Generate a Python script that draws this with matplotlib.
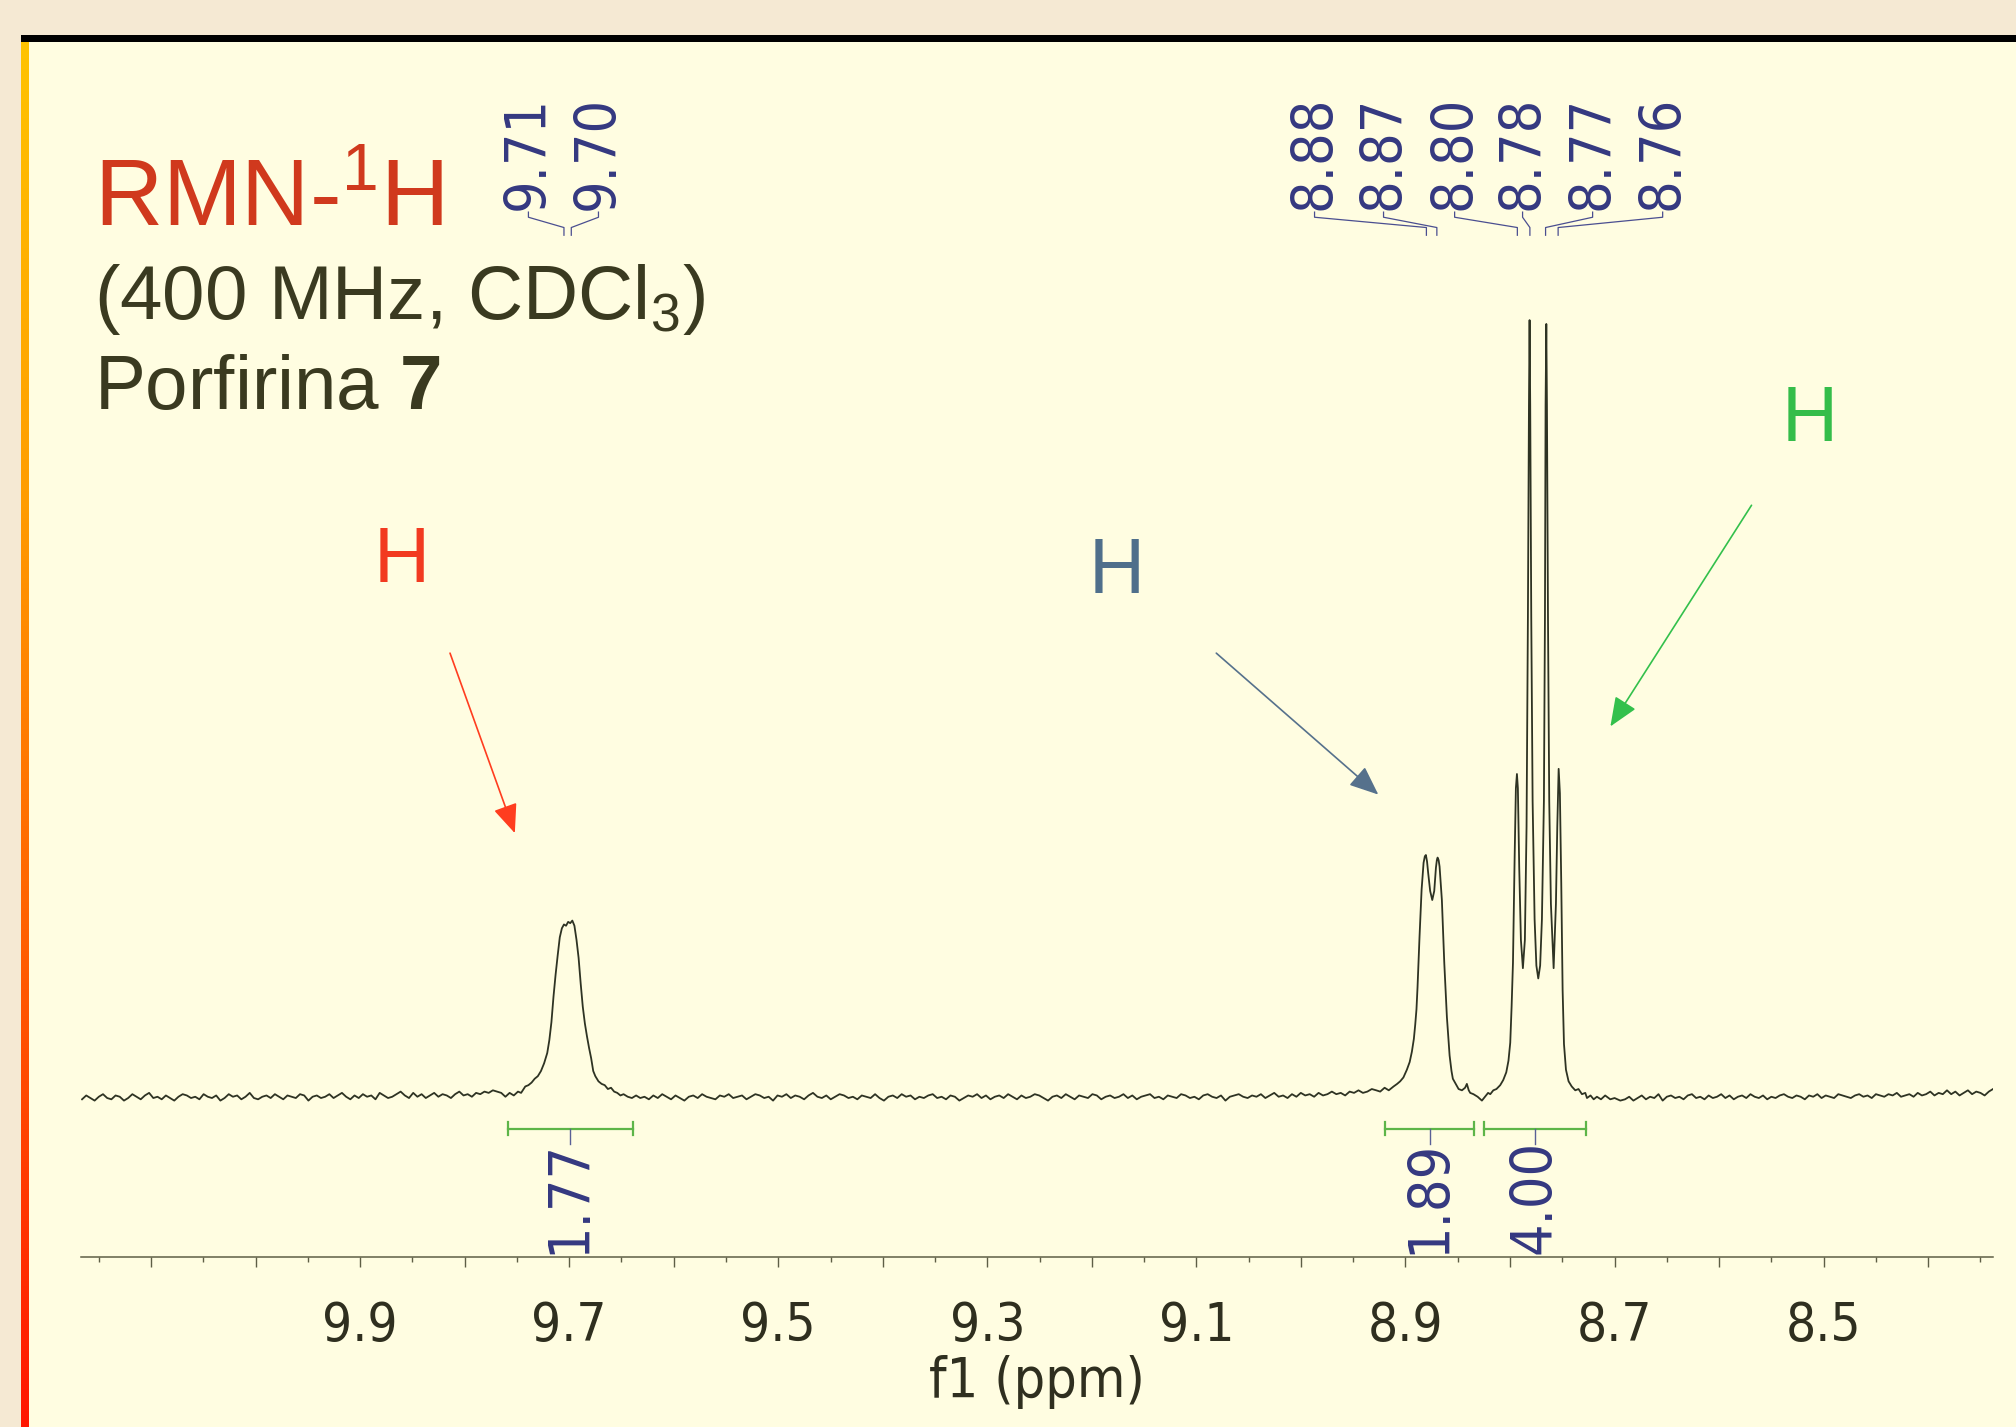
import numpy as np
import matplotlib
matplotlib.use("Agg")
import matplotlib.pyplot as plt
from matplotlib.patches import Rectangle, FancyArrowPatch
from matplotlib.colors import LinearSegmentedColormap
from matplotlib.ticker import MultipleLocator, FuncFormatter

plt.rcParams['mathtext.fontset'] = 'custom'
plt.rcParams['mathtext.rm'] = 'Liberation Sans'
plt.rcParams['mathtext.it'] = 'Liberation Sans:italic'
plt.rcParams['mathtext.bf'] = 'Liberation Sans:bold'

# ---------------- data ----------------
# baseline noise (hundredths of intensity unit) in three flat regions
base_A_range = (10.166, 9.765)
base_A = [-2, 1, -1, -3, 0, 2, -1, -2, 1, 0, -3, -1, 2, 0, -2, 1, 3, -1, 0, -2,
          1, -1, -3, 0, 2, 1, -1, 0, -2, 2, 0, -1, 1, -3, -1, 2, 0, 1, -2, 0,
          3, -1, -2, 0, 1, -1, 2, 0, -2, 1, 0, -1, 2, 1, -3, 0, 1, -1, 0, 2,
          -1, 1, 3, 0, -2, 1, -1, 2, 0, 1, -2, 3, 1, -1, 0, 2, 4, 1, -1, 3,
          0, 2, -1, 1, 3, 0, 2, 1, -1, 2, 4, 1, 2, 0, 3, 2, 4, 3, 5, 4, 3]
base_B_range = (9.628, 8.928)
base_B = [0, -2, 1, -1, 2, 0, -2, 1, -1, -3, 0, 1, -1, 2, 0, -1, -2, 1, 0, 2,
          -1, 0, 1, -2, 0, 2, 1, -1, 0, -3, 1, 0, 2, -1, 1, 0, -2, 1, 3, 0,
          -1, 1, -2, 0, 2, 1, -1, 0, -2, 1, 0, -1, 2, -1, -3, 0, 1, -1, 2, 0,
          1, -2, 0, -1, 1, 2, -1, 0, -2, 1, 0, -3, -1, 1, 0, 2, -1, 1, -2, 0,
          1, -1, 2, 0, -2, 1, -1, 0, 2, 1, -1, -3, 0, 1, -1, 2, 0, -2, 1, 0,
          -1, 2, 1, -2, 0, 1, -1, 0, 2, -1, 1, -2, 0, 1, 2, -1, 0, -2, 1, 0,
          -1, 2, 1, -1, 0, -2, 1, 2, 0, -1, 1, -3, 0, 1, 2, 0, -1, 1, 0, 2,
          -1, 1, 3, 0, 1, -1, 2, 0, 3, 1, 2, 0, 3, 1, 2, 4, 2, 3, 1, 4,
          3, 5, 3, 4, 6, 5]
base_C_range = (8.690, 8.338)
base_C = [-2, 0, -3, -1, 1, -2, 0, -1, 2, -3, 0, 1, -1, 0, -2, 1, 2, -1, 0, -2,
          1, -1, 0, 2, -1, 1, -2, 0, 1, -1, 2, 0, -1, 1, -2, 0, -1, 1, 2, 0,
          -1, 1, 0, -2, 1, 0, 2, -1, 1, 0, -1, 2, 1, 0, -1, 1, 2, 0, 1, -1,
          2, 1, 0, 2, 1, 3, 0, 1, 2, 0, 3, 1, 2, 4, 1, 3, 2, 5, 2, 4,
          1, 3, 5, 2, 4, 3, 1, 4, 6]

# signal at 9.70 ppm
peak1_ppm = [9.761, 9.757, 9.753, 9.749, 9.746, 9.742, 9.739, 9.736, 9.733, 9.730,
             9.727, 9.724, 9.721, 9.719, 9.717, 9.715, 9.713, 9.711, 9.709, 9.707,
             9.705, 9.703, 9.701, 9.699, 9.697, 9.695, 9.693, 9.691, 9.689, 9.687,
             9.685, 9.683, 9.681, 9.679, 9.677, 9.675, 9.672, 9.669, 9.666, 9.663,
             9.660, 9.657, 9.654, 9.651, 9.648, 9.644, 9.640, 9.636, 9.632]
peak1_int = [0.00, 0.03, 0.01, 0.04, 0.03, 0.08, 0.09, 0.11, 0.14, 0.16,
             0.20, 0.26, 0.34, 0.44, 0.58, 0.78, 0.95, 1.10, 1.24, 1.31,
             1.34, 1.33, 1.36, 1.35, 1.37, 1.33, 1.22, 1.08, 0.88, 0.70,
             0.57, 0.47, 0.38, 0.30, 0.20, 0.16, 0.12, 0.10, 0.09, 0.06,
             0.07, 0.04, 0.03, 0.01, 0.02, 0.00, -0.01, 0.01, -0.01]

# signals between 8.92 and 8.69 ppm
peak2_ppm = [8.9242, 8.9200, 8.9160, 8.9114, 8.9080, 8.9051, 8.9020, 8.8987, 8.8960, 8.8939,
             8.8920, 8.8907, 8.8895, 8.8885, 8.8866, 8.8846, 8.8827, 8.8815, 8.8805, 8.8794,
             8.8783, 8.8764, 8.8744, 8.8725, 8.8709, 8.8700, 8.8693, 8.8683, 8.8674, 8.8652,
             8.8629, 8.8604, 8.8578, 8.8560, 8.8547, 8.8520, 8.8492, 8.8460, 8.8430, 8.8413,
             8.8395, 8.8381, 8.8350, 8.8310, 8.8269, 8.8240, 8.8210, 8.8189, 8.8160, 8.8130,
             8.8094, 8.8065, 8.8036, 8.8015, 8.7998, 8.7985, 8.7972, 8.7956, 8.7944, 8.7934,
             8.7925, 8.7912, 8.7896, 8.7877, 8.7858, 8.7842, 8.7829, 8.7819, 8.7813, 8.7807,
             8.7797, 8.7784, 8.7765, 8.7748, 8.7730, 8.7712, 8.7695, 8.7676, 8.7666, 8.7660,
             8.7653, 8.7647, 8.7637, 8.7625, 8.7609, 8.7583, 8.7561, 8.7548, 8.7535, 8.7523,
             8.7510, 8.7497, 8.7484, 8.7465, 8.7440, 8.7410, 8.7376, 8.7345, 8.7312, 8.7280,
             8.7264, 8.7230, 8.7200, 8.7169, 8.7130, 8.7090, 8.7041, 8.7000, 8.6945]
peak2_int = [0.04, 0.07, 0.05, 0.08, 0.10, 0.12, 0.15, 0.21, 0.27, 0.35,
             0.45, 0.56, 0.68, 0.85, 1.24, 1.61, 1.82, 1.87, 1.88, 1.83,
             1.74, 1.60, 1.53, 1.60, 1.78, 1.84, 1.86, 1.84, 1.79, 1.53,
             1.04, 0.62, 0.32, 0.20, 0.14, 0.10, 0.06, 0.05, 0.07, 0.10,
             0.05, 0.03, 0.02, 0.00, -0.03, 0.00, 0.03, 0.02, 0.05, 0.06,
             0.09, 0.13, 0.19, 0.28, 0.42, 0.70, 1.04, 1.86, 2.40, 2.51,
             2.40, 1.78, 1.22, 1.00, 1.22, 2.10, 3.73, 5.38, 6.04, 5.38,
             3.73, 2.30, 1.38, 1.02, 0.92, 1.02, 1.38, 2.30, 3.73, 5.38,
             6.01, 5.38, 3.73, 2.30, 1.50, 1.00, 1.50, 2.10, 2.55, 2.36,
             1.66, 0.83, 0.41, 0.21, 0.12, 0.08, 0.05, 0.06, 0.02, 0.03,
             -0.01, 0.01, -0.02, 0.00, -0.02, 0.01, -0.02, -0.01, -0.03]

# axis tick labels (every 0.2 ppm)
tick_labels = ['9.9', '9.7', '9.5', '9.3', '9.1', '8.9', '8.7', '8.5']

# peak picking
peak_labels = ['9.71', '9.70', '8.88', '8.87', '8.80', '8.78', '8.77', '8.76']
peak_ppm = [9.705, 9.698, 8.880, 8.870, 8.793, 8.781, 8.766, 8.754]

# integrals
integral_values = ['1.77', '1.89', '4.00']
integral_from = [9.759, 8.920, 8.825]
integral_to = [9.639, 8.834, 8.727]

# assignment labels
assign_text = ['H', 'H', 'H']

# ---------------- layout / style ----------------
W, H = 2016, 1427
label_x_ppm = [9.739, 9.672, 8.987, 8.921, 8.853, 8.788, 8.721, 8.654]
assign_xy = [(9.860, 4.00), (9.176, 3.92), (8.513, 5.10)]
assign_col = ['#F23A20', '#4F6F8B', '#34BD4A']
arrow_from = [(9.814, 3.45), (9.081, 3.45), (8.569, 4.60)]
arrow_to = [(9.752, 2.05), (8.926, 2.35), (8.704, 2.88)]
arrow_col = ['#FF3D1F', '#56718C', '#33C04C']

navy = '#343880'
dark = '#3A3A20'
cond = dict(family=['DejaVu Sans Condensed', 'DejaVu Sans'], fontstretch='condensed')

fig = plt.figure(figsize=(W / 100, H / 100), dpi=100)
fig.patch.set_facecolor('#F5E9D3')

# slide panel
fig.patches.append(Rectangle((21 / W, 0), 1 - 21 / W, 1 - 42 / H, transform=fig.transFigure,
                             facecolor='#FFFDE1', edgecolor='none', zorder=-3))
fig.patches.append(Rectangle((21 / W, 1 - 42 / H), 1, 7 / H, transform=fig.transFigure,
                             facecolor='black', edgecolor='none', zorder=-2))
gcmap = LinearSegmentedColormap.from_list('bar', ['#FFC300', '#FF9C00', '#FF5C00', '#FF1600'])
gax = fig.add_axes([21 / W, 0, 8 / W, 1 - 42 / H])
gax.imshow(np.linspace(0, 1, 256).reshape(-1, 1), aspect='auto', cmap=gcmap, origin='upper')
gax.axis('off')

# main axes
ax = fig.add_axes([81 / W, 0.1188, (1993 - 81) / W, 0.8452])
ax.set_facecolor('none')
ax.set_xlim(10.167, 8.338)
ax.set_ylim(-1.25, 8.13)

x = np.concatenate([np.linspace(*base_A_range, len(base_A)), peak1_ppm,
                    np.linspace(*base_B_range, len(base_B)), peak2_ppm,
                    np.linspace(*base_C_range, len(base_C))])
y = np.concatenate([np.array(base_A) / 100, peak1_int,
                    np.array(base_B) / 100, peak2_int,
                    np.array(base_C) / 100])
ax.plot(x, y, color='#2E3323', lw=1.3, zorder=3, solid_joinstyle='round')

for s in ['top', 'left', 'right']:
    ax.spines[s].set_visible(False)
ax.spines['bottom'].set_color('#5E5E45')
ax.spines['bottom'].set_linewidth(1.1)
ax.yaxis.set_visible(False)
ax.xaxis.set_major_locator(MultipleLocator(0.1))
ax.xaxis.set_minor_locator(MultipleLocator(0.05))
ax.xaxis.set_major_formatter(FuncFormatter(
    lambda v, p: f'{v:.1f}' if f'{v:.1f}' in tick_labels else ''))
ax.tick_params(axis='x', which='major', length=7.5, width=1.0, color='#5E5E45', pad=23,
               labelsize=38, labelcolor='#2F2F1F')
ax.tick_params(axis='x', which='minor', length=3.5, width=1.0, color='#5E5E45')
for t in ax.get_xticklabels():
    t.set_family(cond['family'])
    t.set_fontstretch('condensed')
ax.set_xlabel('f1 (ppm)', fontsize=40, color='#2F2F1F', va='baseline', **cond)
ax.xaxis.set_label_coords(0.5, -0.1158)

# peak labels with connectors
for lab, xl, xp in zip(peak_labels, label_x_ppm, peak_ppm):
    ax.text(xl, 6.90, lab, rotation=90, ha='center', va='bottom', fontsize=41, color=navy, **cond)
    ax.plot([xl, xl, xp, xp], [6.88, 6.84, 6.76, 6.70], color='#4A4E90', lw=0.9)

# integrals
for val, a, b in zip(integral_values, integral_from, integral_to):
    m = (a + b) / 2
    ax.plot([a, b], [-0.25, -0.25], color='#5DB548', lw=1.6)
    ax.plot([a, a], [-0.30, -0.20], color='#5DB548', lw=1.6)
    ax.plot([b, b], [-0.30, -0.20], color='#5DB548', lw=1.6)
    ax.plot([m, m], [-0.25, -0.37], color='#5A5F96', lw=1.0)
    ax.text(m, -1.225, val, rotation=90, ha='center', va='bottom', fontsize=41, color=navy, **cond)

# assignment H's and arrows
for t, (hx, hy), c in zip(assign_text, assign_xy, assign_col):
    ax.text(hx, hy, t, ha='center', va='baseline', fontsize=56, color=c, family='Liberation Sans')
for p0, p1, c in zip(arrow_from, arrow_to, arrow_col):
    ax.add_patch(FancyArrowPatch(p0, p1, arrowstyle='-|>,head_length=18,head_width=7.5',
                                 mutation_scale=1, lw=1.2, color=c, shrinkA=0, shrinkB=0))

# titles
fig.text(94 / W, 1 - 225 / H, r'RMN-$^{\mathregular{1}}$H', fontsize=68, color='#D0391D',
         family='Liberation Sans', va='baseline')
fig.text(94 / W, 1 - 319 / H, r'(400 MHz, CDCl$_{\mathregular{3}}$)', fontsize=55, color=dark,
         family='Liberation Sans', va='baseline')
fig.text(94 / W, 1 - 409 / H, r'Porfirina $\mathbf{7}$', fontsize=55, color=dark,
         family='Liberation Sans', va='baseline')

fig.savefig('out.png', dpi=100, facecolor=fig.get_facecolor())
